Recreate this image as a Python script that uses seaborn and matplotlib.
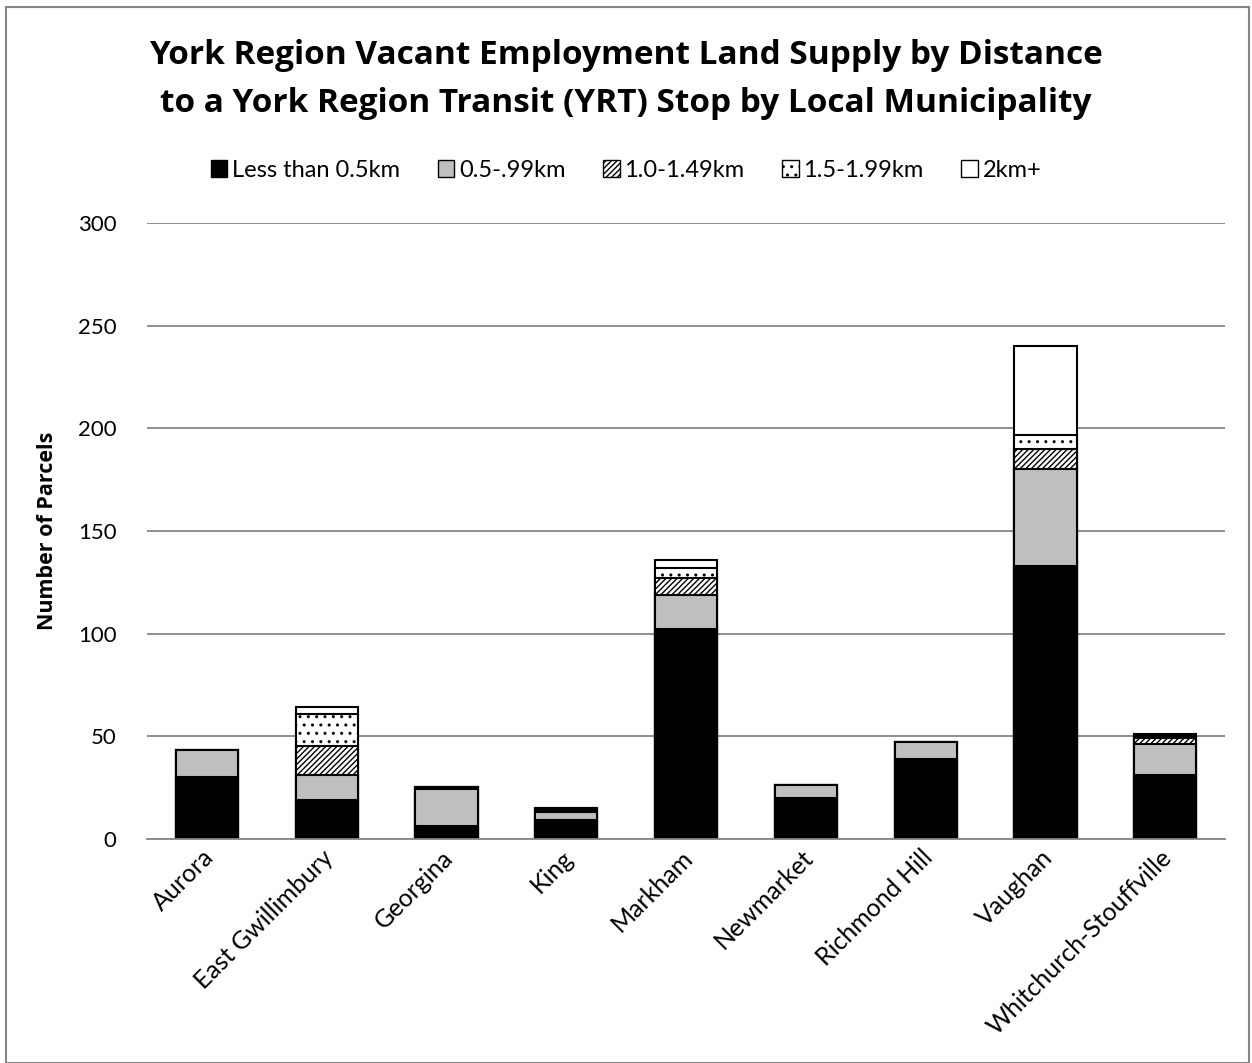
import matplotlib
matplotlib.use("Agg")
import matplotlib.pyplot as plt
import matplotlib.transforms as mtransforms
import pandas as pd
import seaborn as sns
from matplotlib.patches import Patch

municipalities = ["Aurora", "East Gwillimbury", "Georgina", "King", "Markham",
                  "Newmarket", "Richmond Hill", "Vaughan", "Whitchurch-Stouffville"]
less_05 = [30, 19, 6, 9, 102, 20, 39, 133, 31]
km_05_099 = [13, 12, 18, 4, 17, 6, 8, 47, 15]
km_10_149 = [0, 14, 1, 1, 8, 0, 0, 10, 3]
km_15_199 = [0, 16, 0, 1, 5, 0, 0, 7, 1]
km_2_plus = [0, 3, 0, 0, 4, 0, 0, 43, 1]

series_names = ["Less than 0.5km", "0.5-.99km", "1.0-1.49km", "1.5-1.99km", "2km+"]
colors = ["black", "#bfbfbf", "white", "white", "white"]
hatches = [None, None, "//////", "..", None]

df = pd.DataFrame({"municipality": municipalities,
                   series_names[0]: less_05,
                   series_names[1]: km_05_099,
                   series_names[2]: km_10_149,
                   series_names[3]: km_15_199,
                   series_names[4]: km_2_plus})

# cumulative totals so the tallest layer is drawn first and covered by the next ones
cum = df[series_names].cumsum(axis=1)

sns.set_style("white")
plt.rcParams['font.family'] = ['Lato', 'DejaVu Sans']
plt.rcParams['hatch.linewidth'] = 1.0
for key in ['text.color', 'axes.labelcolor', 'xtick.color', 'ytick.color']:
    plt.rcParams[key] = 'black'

fig = plt.figure(figsize=(12.52, 10.63), dpi=100)
ax = fig.add_axes([0.1175, 0.211, 0.861, 0.579])

for i in reversed(range(len(series_names))):
    name = series_names[i]
    sns.barplot(x=df["municipality"], y=cum[name], color=colors[i], ax=ax,
                width=0.52, edgecolor="black", linewidth=1.5, saturation=1)
    if hatches[i]:
        for bar in ax.patches[-len(municipalities):]:
            bar.set_hatch(hatches[i])

ax.set_ylim(0, 300)
ax.set_yticks(range(0, 301, 50))
ax.yaxis.grid(True, color="#868686", linewidth=1.3)
ax.set_axisbelow(True)
for s in ["top", "right", "left"]:
    ax.spines[s].set_visible(False)
ax.spines["bottom"].set_color("#868686")
ax.spines["bottom"].set_linewidth(1.3)
ax.set_xlim(-0.5, len(municipalities) - 0.5)

ax.set_xlabel("")
ax.set_ylabel("Number of Parcels", fontsize=15.5, fontweight="bold", family="Open Sans", labelpad=14)
ax.tick_params(axis="y", labelsize=16, length=0, pad=22)
ax.tick_params(axis="x", labelsize=18, length=0, pad=5)
offset = mtransforms.ScaledTranslation(-0.05, 0, fig.dpi_scale_trans)
for lab in ax.get_xticklabels():
    lab.set_rotation(45)
    lab.set_ha("right")
    lab.set_rotation_mode("anchor")
    lab.set_transform(lab.get_transform() + offset)

fig.suptitle("York Region Vacant Employment Land Supply by Distance\n"
             "to a York Region Transit (YRT) Stop by Local Municipality",
             fontsize=24, fontweight="bold", family="Open Sans", y=0.963, linespacing=1.6)

handles = [Patch(facecolor=colors[i], edgecolor="black", hatch=hatches[i], label=series_names[i])
           for i in range(len(series_names))]
fig.legend(handles=handles, loc="center", bbox_to_anchor=(0.5, 0.84), ncol=5,
           frameon=False, fontsize=17, handlelength=0.7, handleheight=0.7,
           handletextpad=0.2, columnspacing=1.6)

# grey frame around the chart area
fig.patches.append(plt.Rectangle((0.005, 0.0), 0.993, 0.993, transform=fig.transFigure,
                                 fill=False, edgecolor="#868686", linewidth=1.5))

fig.savefig("out.png", dpi=100)
